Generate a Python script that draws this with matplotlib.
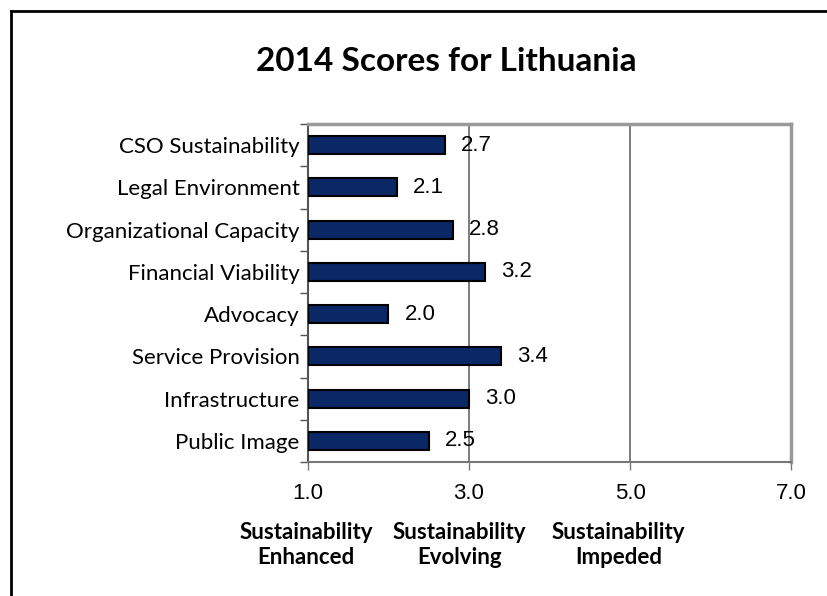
import numpy as np
import matplotlib.pyplot as plt
from matplotlib.lines import Line2D

categories = ["CSO Sustainability", "Legal Environment", "Organizational Capacity",
              "Financial Viability", "Advocacy", "Service Provision",
              "Infrastructure", "Public Image"]
scores = [2.7, 2.1, 2.8, 3.2, 2.0, 3.4, 3.0, 2.5]
x_ticks = [1.0, 3.0, 5.0, 7.0]
zone_labels = ["Sustainability\nEnhanced", "Sustainability\nEvolving", "Sustainability\nImpeded"]
zone_pos = [0.98, 2.88, 4.86]

fig = plt.figure(figsize=(8.27, 5.96), dpi=100)
ax = fig.add_axes([0.3724, 0.2248, 0.5841, 0.5671])

y = np.arange(len(categories))
ax.barh(y, [s - 1.0 for s in scores], left=1.0, height=0.43,
        color="#0a2766", edgecolor="black", linewidth=1.5, zorder=3)
for yi, s in zip(y, scores):
    ax.annotate(f"{s:.1f}", (s, yi), xytext=(11.5, 0), textcoords="offset points",
                va="center", ha="left", fontsize=16, family="Liberation Sans", zorder=4)

ax.set_xlim(1.0, 7.0)
ax.set_ylim(len(categories) - 0.5, -0.5)
ax.set_xticks(x_ticks)
ax.set_xticklabels([f"{t:.1f}" for t in x_ticks], fontsize=16, family="Liberation Sans")
ax.tick_params(axis="x", length=6, width=1, color="#777777", pad=9)

ax.set_yticks(y)
ax.set_yticklabels(categories, fontsize=16, family="Lato")
ax.tick_params(axis="y", which="major", length=0, pad=6)
ax.set_yticks(np.arange(-0.5, len(categories)), minor=True)
ax.tick_params(axis="y", which="minor", length=6, width=1, color="#555555")

for gx in [3.0, 5.0]:
    ax.axvline(gx, color="#666666", linewidth=1.2, zorder=1)

ax.spines["left"].set_color("#555555")
ax.spines["left"].set_linewidth(1.5)
ax.spines["bottom"].set_color("#777777")
ax.spines["bottom"].set_linewidth(1.5)
for side in ["top", "right"]:
    ax.spines[side].set_color("#999999")
    ax.spines[side].set_linewidth(2.5)

fig.text(0.54, 0.897, "2014 Scores for Lithuania", ha="center", va="center",
         fontsize=24, fontweight="bold", family="Lato")

for lab, xp in zip(zone_labels, zone_pos):
    ax.text(xp, -0.178, lab, transform=ax.get_xaxis_transform(), ha="center", va="top",
            fontsize=16, fontweight="bold", family="Lato", linespacing=1.22)

# frame lines along the left and top edges
fig.add_artist(Line2D([0.0133, 0.0133], [0.0, 0.982], transform=fig.transFigure,
                      color="black", linewidth=2))
fig.add_artist(Line2D([0.0133, 1.0], [0.982, 0.982], transform=fig.transFigure,
                      color="black", linewidth=2))

fig.savefig("out.png", dpi=100)
